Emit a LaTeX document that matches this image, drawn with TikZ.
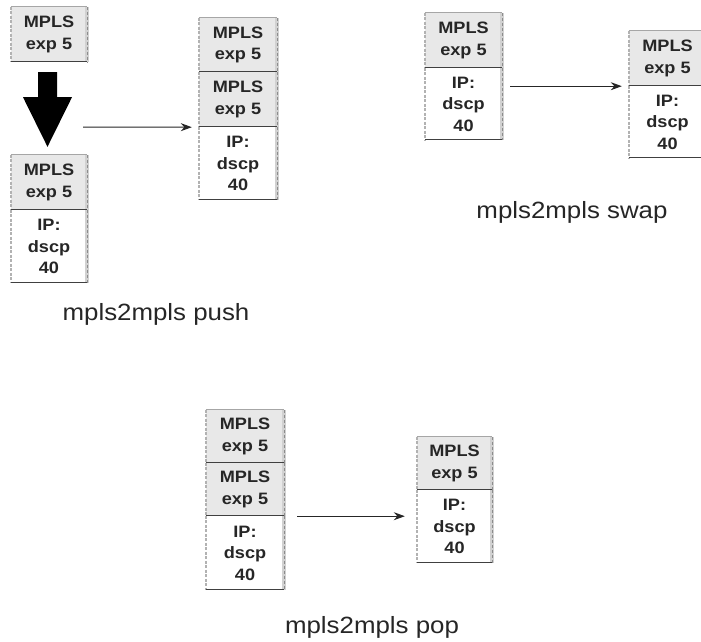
\documentclass[tikz,border=0pt]{standalone}
\usepackage{fontspec}
\setmainfont{Liberation Sans}
\newfontfamily\widesans[FakeStretch=1.1]{Liberation Sans}
\usetikzlibrary{arrows.meta}

\tikzset{
  % one cell of a packet-header stack
  cell/.style={rectangle, inner sep=0pt, align=center, text=black!85,
    font=\widesans\fontsize{16.5}{21.5}\selectfont\bfseries,
    append after command={
      (\tikzlastnode.north west) edge[leftband] (\tikzlastnode.south west)
      (\tikzlastnode.north east) edge[rightband] (\tikzlastnode.south east)
      (\tikzlastnode.north east) edge[rightdash] (\tikzlastnode.south east)
      ([shift={(0,-0.8)}]\tikzlastnode.south west) edge[rule] ([shift={(0,-0.8)}]\tikzlastnode.south east)
    }},
  mpls/.style={cell, fill=black!9},
  ip/.style={cell, fill=white},
  topcell/.style={append after command={
      (\tikzlastnode.north west) edge[toprule] (\tikzlastnode.north east)}},
  leftband/.style={draw=black!30, line width=1.6pt, dash pattern=on 3pt off 1.5pt},
  rightband/.style={draw=black!18, line width=4pt},
  rightdash/.style={draw=black!45, line width=1.4pt, dash pattern=on 3pt off 2pt},
  rule/.style={draw=black!75, line width=1.6pt},
  toprule/.style={draw=black!35, line width=1pt},
  conn/.style={draw=black!85, line width=1pt, -{Stealth[length=11pt,width=8pt]}},
  caption/.style={anchor=base, text=black!85, font=\widesans\fontsize{23.5}{28}\selectfont},
  blockarrow/.style={fill=black}
}

\begin{document}
\begin{tikzpicture}[x=1pt, y=-1pt]
  \clip (0,0) rectangle (701,642);
  \fill[white] (0,0) rectangle (701,642);

  % ---- push ----
  \node[mpls, topcell, minimum width=76, minimum height=55] (tl) at (49,34.5) {MPLS\\exp 5};
  \node[mpls, topcell, minimum width=76, minimum height=55] (bl1) at (49,182.5) {MPLS\\exp 5};
  \node[ip, minimum width=76, minimum height=73] (bl2) at (49,246.5) {IP:\\dscp\\40};
  \fill[blockarrow] ([shift={(-11,10)}]tl.south) -- ([shift={(8,10)}]tl.south)
    -- ([shift={(8,35)}]tl.south) -- ([shift={(23,35)}]tl.south)
    -- ([shift={(-1.5,-8)}]bl1.north) -- ([shift={(-26,35)}]tl.south)
    -- ([shift={(-11,35)}]tl.south) -- cycle;

  \node[mpls, topcell, minimum width=78, minimum height=54] (m1) at (238,45) {MPLS\\exp 5};
  \node[mpls, minimum width=78, minimum height=55] (m2) at (238,99.5) {MPLS\\exp 5};
  \node[ip, minimum width=78, minimum height=73] (m3) at (238,163.5) {IP:\\dscp\\40};

  \coordinate (pushstart) at (83,127);
  \draw[conn, shorten >=7pt] (pushstart) -- (m2.south west);
  \node[caption] (pushlabel) at (156,320) {mpls2mpls push};

  % ---- swap ----
  \node[mpls, topcell, minimum width=77, minimum height=55] (sl1) at (463.5,40.5) {MPLS\\exp 5};
  \node[ip, minimum width=77, minimum height=72] (sl2) at (463.5,104) {IP:\\dscp\\40};
  \node[mpls, topcell, minimum width=77, minimum height=55] (sr1) at (667.5,58.5) {MPLS\\exp 5};
  \node[ip, minimum width=77, minimum height=72] (sr2) at (667.5,122) {IP:\\dscp\\40};
  \draw[conn, shorten <=8pt, shorten >=7pt] (sl2.east |- sr1.south west) -- (sr1.south west);
  \node[caption] (swaplabel) at (572,218) {mpls2mpls swap};

  % ---- pop ----
  \node[mpls, topcell, minimum width=78, minimum height=53] (pl1) at (245,436.5) {MPLS\\exp 5};
  \node[mpls, minimum width=78, minimum height=53] (pl2) at (245,489.5) {MPLS\\exp 5};
  \node[ip, minimum width=78, minimum height=74] (pl3) at (245,553) {IP:\\dscp\\40};
  \node[mpls, topcell, minimum width=75, minimum height=53] (pr1) at (454.5,463.5) {MPLS\\exp 5};
  \node[ip, minimum width=75, minimum height=73] (pr2) at (454.5,526.5) {IP:\\dscp\\40};
  \draw[conn, shorten <=13pt, shorten >=12pt] (pl2.south east) -- (pr2.west |- pl2.south east);
  \node[caption] (poplabel) at (372,633) {mpls2mpls pop};
\end{tikzpicture}
\end{document}
